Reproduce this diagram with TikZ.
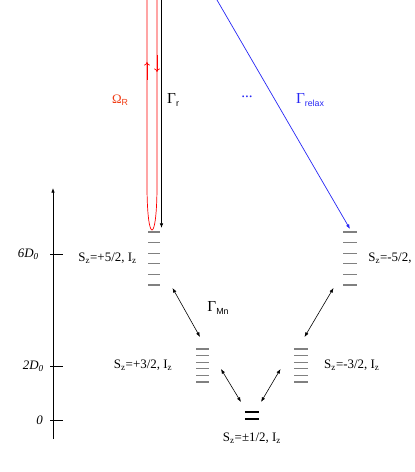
\documentclass[tikz,border=0pt]{standalone}
\usepackage{fontspec}
\setmainfont{Liberation Serif}
\setsansfont{Liberation Sans}
\usetikzlibrary{positioning,calc,arrows.meta}

\definecolor{omcol}{RGB}{240,60,20}
\definecolor{relaxcol}{RGB}{40,40,245}

\newcommand{\lowtext}[1]{\raisebox{-0.4ex}{\fontsize{7.5}{8}\selectfont\sffamily #1}}
\newcommand{\Sz}[1]{S\textsubscript{z}=#1, I\textsubscript{z}}

\tikzset{
  stack/.style={inner sep=0pt, outer sep=0pt, minimum width=11pt},
  level/.style={gray, line width=1.1pt},
  lbl/.style={inner sep=0pt, font=\fontsize{11}{13}\selectfont},
  axlabel/.style={inner sep=0pt, font=\fontsize{11}{13}\selectfont\itshape},
  gam/.style={inner sep=0pt, font=\fontsize{13}{15}\selectfont},
  both/.style={line width=0.5pt, {Latex[length=4pt,width=3pt]}-{Latex[length=4pt,width=3pt]}},
  rabi/.style={red, line width=0.6pt},
  relax/.style={relaxcol, line width=0.6pt, -{Latex[length=4pt,width=3pt]}}
}

\begin{document}
\begin{tikzpicture}[x=0.85pt,y=-0.85pt]
\useasboundingbox (0,0) rectangle (415,472);

        % Energy axis
        \coordinate (ax0) at (53,439);
        \coordinate (ax1) at (53,188);
        \draw[line width=0.6pt, -{Latex[length=4pt,width=3pt]}] (ax0) -- (ax1);
        \foreach \yy/\xx/\lab in {254/39/{6D\textsubscript{0}}, 366/44/{2D\textsubscript{0}}, 420/43/0} {
          \draw[line width=0.6pt] (50,\yy) -- (63,\yy);
          \node[axlabel, anchor=east] (t\yy) at (\xx,\yy) {\lab};
        }

        % Level stacks
        \node[stack, minimum width=10.2pt, minimum height=45pt] (s52) at (154,258.5) {};
        \node[stack, minimum width=11.9pt, minimum height=45pt] (m52) at (350,258.5) {};
        \node[stack, minimum height=28pt] (s32) at (202.5,365.5) {};
        \node[stack, minimum width=11.9pt, minimum height=28pt] (m32) at (301,365.5) {};
        \node[stack, minimum width=12pt, minimum height=6pt] (s12) at (252,415.5) {};

        \foreach \s in {s52,m52,s32,m32}
          \foreach \k in {0,...,5}
            \draw[level] ($(\s.north west)!\k/5!(\s.south west)$) -- ($(\s.north east)!\k/5!(\s.south east)$);
        \draw[line width=1.8pt] (s12.north west) -- (s12.north east);
        \draw[line width=1.8pt] (s12.south west) -- (s12.south east);

        % Level labels
        \node[lbl, left=9.4pt of s52] (l52) {\Sz{+5/2}};
        \node[lbl, right=9.4pt of m52] (r52) {S\textsubscript{z}=-5/2,};
        \node[lbl, left=20pt of s32] (l32) {\Sz{+3/2}};
        \node[lbl, right=13.6pt of m32] (r32) {\Sz{-3/2}};
        \node[lbl, below=12pt of s12] (l12) {\Sz{±1/2}};

        % Transitions between stacks
        \draw[both] ([shift={(12.5,3)}]s52.south east) -- ([shift={(4,-12)}]s32.north west);
        \draw[both] ([shift={(-9.5,3)}]m52.south west) -- ([shift={(-3.5,-12)}]m32.north east);
        \draw[both] ([shift={(12,3.5)}]s32.east) -- ([shift={(-4,-10)}]s12.north west);
        \draw[both] ([shift={(-13.5,3.5)}]m32.west) -- ([shift={(2,-10)}]s12.north east);
        \node[gam] (GMn) at (218,308) {Γ\lowtext{Mn}};

        % Driving and decay from the top
        \coordinate (rl) at (147,0);
        \coordinate (rr) at (157,0);
        \coordinate (topG) at (161.5,0);
        \coordinate (topB) at (217,0);

        \draw[rabi] (rl) -- (147,185) .. controls (147,245) and (157,245) .. (157,185) -- (rr);
        \draw[rabi, -{To[length=3pt,width=5pt]}] (147,80) -- (147,62);
        \draw[rabi, -{To[length=3pt,width=5pt]}] (157,55) -- (157,72);
        \node[inner sep=0pt, omcol, font=\fontsize{11}{13}\selectfont] (OmR) at (120,100) {Ω\lowtext{R}};

        \draw[line width=0.6pt, -{Latex[length=4pt,width=3pt]}] (topG) -- ([shift={(1.5,-4)}]s52.north east);
        \node[gam, anchor=west] (Gr) at (167,100) {Γ\lowtext{r}};

        \draw[relax] (topB) -- ([yshift=3*0.85pt]m52.north);
        \node[gam, relaxcol] (dots) at (247,97) {...};
        \node[gam, relaxcol] (Grel) at (310,100) {Γ\lowtext{relax}};

\end{tikzpicture}
\end{document}
